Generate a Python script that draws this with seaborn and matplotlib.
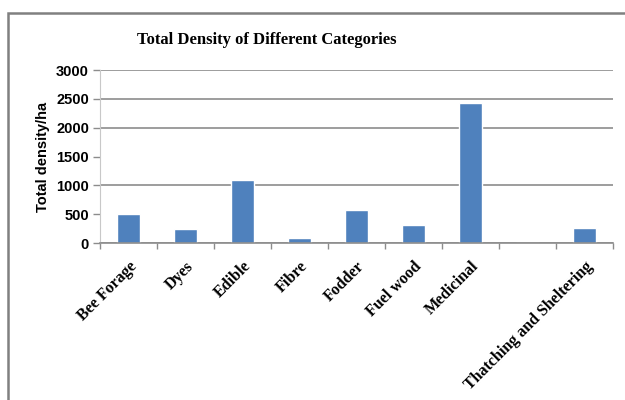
import matplotlib
matplotlib.use("Agg")
import matplotlib.pyplot as plt
from matplotlib.patches import Rectangle
from matplotlib.ticker import FixedLocator
import seaborn as sns
import pandas as pd
import numpy as np

# Categories and total density values (per hectare)
categories = ["Bee Forage", "Dyes", "Edible", "Fibre", "Fodder",
              "Fuel wood", "Medicinal", "", "Thatching and Sheltering"]
density = [495, 245, 1090, 90, 575, 310, 2420, 0, 265]
y_ticks = [0, 500, 1000, 1500, 2000, 2500, 3000]

df = pd.DataFrame({"Category": categories, "Density": density})

sns.set_theme(style="white")
plt.rcParams["font.family"] = ["Liberation Sans", "DejaVu Sans"]

fig = plt.figure(figsize=(6.25, 4.0), dpi=100)
ax = fig.add_axes([100 / 625, 1 - 243 / 400, 513 / 625, 173 / 400])

sns.barplot(data=df, x="Category", y="Density", order=categories,
            color="#4F81BD", saturation=1, width=0.42, ax=ax)

ax.set_xlim(-0.5, len(categories) - 0.5)
ax.set_ylim(0, 3000)
ax.set_yticks(y_ticks)
ax.set_yticklabels([str(v) for v in y_ticks], fontsize=10.5, fontweight="bold",
                   color="black")

# horizontal grid lines
ax.yaxis.grid(True, color="#8c8c8c", linewidth=1.2)
for val, line in zip(y_ticks, ax.yaxis.get_gridlines()):
    if val in (500, 1500):
        line.set_visible(False)
ax.set_axisbelow(True)

# category labels
ax.set_xticks(range(len(categories)))
ax.set_xticklabels(categories, rotation=45, ha="right", rotation_mode="anchor",
                   family="Liberation Serif", fontweight="bold", fontsize=11.5,
                   color="black")
ax.tick_params(axis="x", which="major", length=0, pad=11)
ax.xaxis.set_minor_locator(FixedLocator(np.arange(-0.5, len(categories), 1.0)))
ax.tick_params(axis="x", which="minor", length=4, width=1, color="#8c8c8c",
               direction="out", bottom=True)
ax.tick_params(axis="y", which="major", length=5, width=1, color="#8c8c8c",
               direction="out", left=True, pad=3)

for side in ["top", "right"]:
    ax.spines[side].set_visible(False)
ax.spines["bottom"].set_color("#8c8c8c")
ax.spines["bottom"].set_linewidth(1.2)
ax.spines["left"].set_color("#c8c8c8")
ax.spines["left"].set_linewidth(0.8)

ax.set_xlabel("")
ax.set_ylabel("Total density/ha", fontsize=10.5, fontweight="bold",
              color="black", labelpad=4)

fig.text(267 / 625, 1 - 40 / 400, "Total Density of Different Categories",
         ha="center", va="center", family="Liberation Serif",
         fontweight="bold", fontsize=12, color="black")

# chart frame
fig.patches.append(Rectangle((8 / 625, -0.1), 1.2, 1 - 13 / 400 + 0.1,
                             transform=fig.transFigure, fill=False,
                             edgecolor="#808080", linewidth=1.8))

fig.savefig("out.png", dpi=100)
